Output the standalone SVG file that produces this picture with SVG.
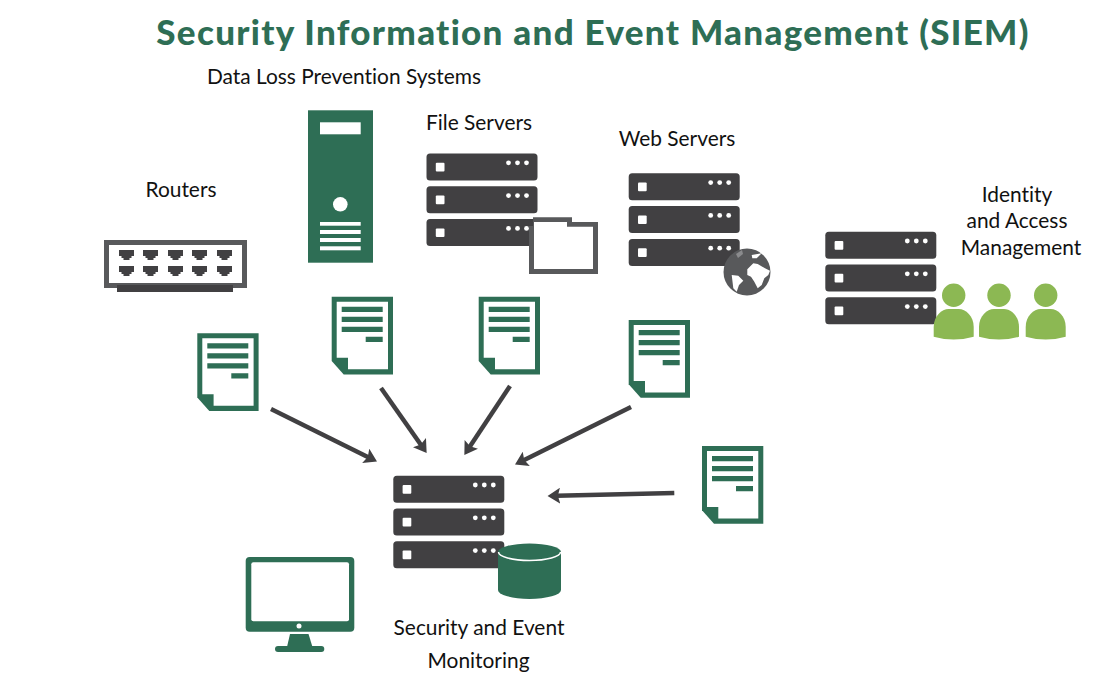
<svg xmlns="http://www.w3.org/2000/svg" xmlns:xlink="http://www.w3.org/1999/xlink" width="1110" height="692" viewBox="0 0 1110 692">
<style>
.t{font-family:"Lato","Liberation Sans",sans-serif;font-size:20.900px;fill:#111;text-anchor:middle;font-variant-ligatures:none}
.title{font-family:"Lato","Liberation Sans",sans-serif;font-size:35px;font-weight:900;fill:#2e6e55;text-anchor:middle;letter-spacing:1.300px;font-variant-ligatures:none}
.g{fill:#2e6e55}.d{fill:#414042}.w{fill:#fff}.p{fill:#8cb853}
.a{stroke:#414042;stroke-width:4.500;fill:none;marker-end:url(#ah)}
</style>
<defs>
<marker id="ah" markerUnits="userSpaceOnUse" markerWidth="14" markerHeight="16" refX="3" refY="7" orient="auto" viewBox="0 0 12 14"><path d="M0 0L11 7L0 14L2 7Z" fill="#414042"/></marker>
<g id="srv">
<g id="srow"><rect class="d" width="111" height="27" rx="3.500"/><rect class="w" x="9.300" y="9.300" width="8.700" height="8.700" rx="1"/><circle class="w" cx="82" cy="9.300" r="2.400"/><circle class="w" cx="91" cy="9.300" r="2.400"/><circle class="w" cx="100" cy="9.300" r="2.400"/></g>
<use xlink:href="#srow" href="#srow" y="32.800"/><use xlink:href="#srow" href="#srow" y="65.600"/>
</g>
<g id="doc">
<path class="g" d="M0 0H61.300V77.700H12L0 64.300Z"/>
<path class="w" d="M5 5H56.300V72.500H16.300V61H5Z"/>
<path class="g" d="M10 10H51V15.300H10ZM10 20H51V25.300H10ZM10 30H51V35.300H10ZM34 40H51V45.300H34Z"/>
</g>
<g id="person"><circle class="p" cx="20" cy="-13.700" r="11.700"/><path class="p" d="M0 27.700V18C0 7 8 0 15 0H25C32 0 40 7 40 18V27.700Q20 33.500 0 27.700Z"/></g>
<path id="port" class="d" d="M0 0H15V6H12.500V8H10.500V10H4.500V8H2.500V6H0Z"/>
</defs>
<rect width="1110" height="692" fill="#fff"/>
<text class="title" x="593" y="44.500">Security Information and Event Management (SIEM)</text>
<g id="label-dlp"><text class="t" x="344" y="83.500">Data Loss Prevention Systems</text></g>
<g id="routers">
<text class="t" x="181" y="196.500">Routers</text>
<rect x="106.500" y="242.500" width="138" height="43" fill="#fff" stroke="#58595b" stroke-width="5"/>
<rect class="d" x="117" y="285" width="116" height="7"/>
<use xlink:href="#port" href="#port" x="119" y="250"/><use xlink:href="#port" href="#port" x="143" y="250"/><use xlink:href="#port" href="#port" x="168" y="250"/><use xlink:href="#port" href="#port" x="192" y="250"/><use xlink:href="#port" href="#port" x="217" y="250"/>
<use xlink:href="#port" href="#port" x="119" y="266"/><use xlink:href="#port" href="#port" x="143" y="266"/><use xlink:href="#port" href="#port" x="168" y="266"/><use xlink:href="#port" href="#port" x="192" y="266"/><use xlink:href="#port" href="#port" x="217" y="266"/>
</g>
<g id="dlp-tower">
<rect class="g" x="308" y="110.300" width="65" height="152.400"/>
<rect class="w" x="320" y="122.300" width="40.700" height="12"/>
<circle class="w" cx="340.300" cy="204.300" r="7.300"/>
<rect class="w" x="320" y="222" width="40.700" height="3.700"/><rect class="w" x="320" y="230" width="40.700" height="4"/><rect class="w" x="320" y="238" width="40.700" height="4"/><rect class="w" x="320" y="246.300" width="40.700" height="4"/>
</g>
<g id="file-servers">
<text class="t" x="479" y="129.500">File Servers</text>
<use xlink:href="#srv" href="#srv" x="426.500" y="153.500"/>
<path fill="#58595b" d="M533 217.300H572V222H598V274H529V226H533Z"/>
<path class="w" d="M534 222H567V226.700H593V269H534Z"/>
</g>
<g id="web-servers">
<text class="t" x="677" y="145.500">Web Servers</text>
<use xlink:href="#srv" href="#srv" x="628.700" y="173.300"/>
<circle cx="747" cy="272" r="23.500" fill="#58595b"/>
<path class="w" d="M747.300 269.300L753.300 263.300L757.700 264L765 268.300L770 270.700L768.300 275L764.300 278.300L761.700 285L757.700 288.300L754.300 281.700L751 276.700L747.300 275ZM731.700 275L738.300 275.700L743.300 280.700L739 285L736.700 291.700L733.300 288.300ZM751.700 255L761.700 253.300L756.700 258.300L752.300 258.300Z"/>
<path fill="#8a8b8d" d="M736 254L742 250L743 254L738 258Z"/>
</g>
<g id="iam">
<text class="t" x="1017" y="201.500">Identity</text>
<text class="t" x="1017" y="227.500">and Access</text>
<text class="t" x="1021" y="254.500">Management</text>
<use xlink:href="#srv" href="#srv" x="825.300" y="231.700"/>
<use xlink:href="#person" href="#person" x="933.700" y="309"/><use xlink:href="#person" href="#person" x="979" y="309"/><use xlink:href="#person" href="#person" x="1025.700" y="309"/>
</g>
<g id="logs">
<use xlink:href="#doc" href="#doc" x="197.300" y="333.300"/>
<use xlink:href="#doc" href="#doc" x="331.700" y="296.700"/>
<use xlink:href="#doc" href="#doc" x="478.700" y="296.700"/>
<use xlink:href="#doc" href="#doc" x="628.700" y="320"/>
<use xlink:href="#doc" href="#doc" x="702" y="446"/>
</g>
<g id="connectors">
<line class="a" x1="271" y1="409" x2="368.800" y2="457.400"/>
<line class="a" x1="381" y1="388" x2="421.400" y2="445.500"/>
<line class="a" x1="510" y1="386" x2="469.400" y2="447.300"/>
<line class="a" x1="631" y1="407" x2="523.200" y2="460.400"/>
<line class="a" x1="674.300" y1="493" x2="556.700" y2="495.800"/>
</g>
<g id="siem">
<use xlink:href="#srv" href="#srv" x="393.300" y="475.700"/>
<path class="g" d="M498 552A31.500 8.500 0 0 1 561 552V590A31.500 9 0 0 1 498 590Z"/>
<path d="M498.500 552A31 8.500 0 0 0 560.500 552" fill="none" stroke="#fff" stroke-width="1.500"/>
<text class="t" x="479" y="634.500">Security and Event</text>
<text class="t" x="478.500" y="667.500">Monitoring</text>
</g>
<g id="monitor">
<rect class="g" x="245.700" y="557" width="108.600" height="74.700" rx="4"/>
<rect class="w" x="251.300" y="562.300" width="97.700" height="59" rx="2"/>
<circle class="w" cx="299" cy="626" r="2.500"/>
<path class="g" d="M290 634H308.500L312.500 647H287Z"/>
<rect class="g" x="275" y="646" width="49.300" height="6" rx="3"/>
</g>
</svg>
